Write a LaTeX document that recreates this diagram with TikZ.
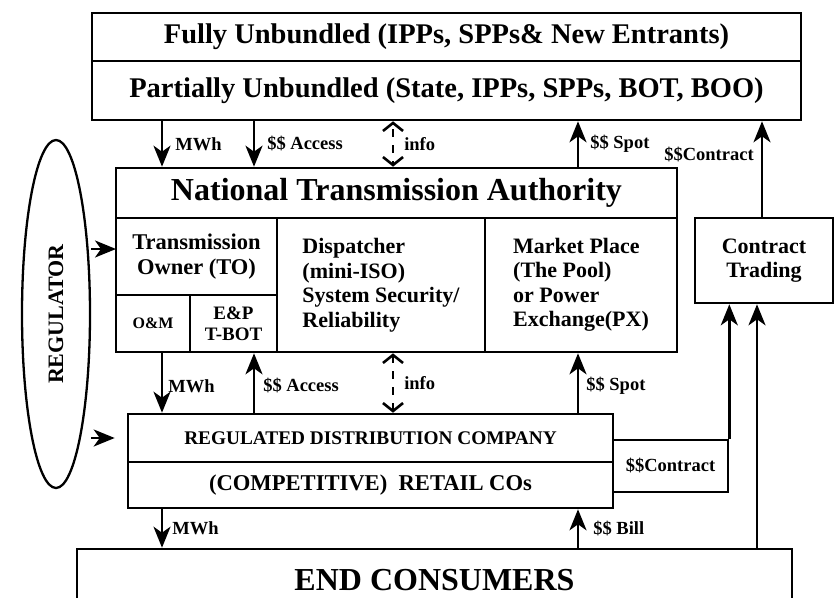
\documentclass[tikz,border=0pt]{standalone}
\usepackage{fontspec}
\setmainfont{Liberation Serif}
\usepackage{tikz}
\usetikzlibrary{arrows.meta}
\usetikzlibrary{shapes.geometric}
\usetikzlibrary{positioning}
\usetikzlibrary{calc}
\newcommand{\fsize}[2]{\fontsize{#1}{#2}\selectfont\bfseries}
\tikzset{
  % Arrow tip for all flows
  >={Stealth[length=21pt,width=17pt,inset=6pt]},
  % Common styles for the market diagram
  line/.style={draw, ->, line width=2.6pt},
  infoline/.style={draw, {Straight Barb[length=8pt,width=20pt]}-{Straight Barb[length=8pt,width=20pt]}, line width=2.6pt, dash pattern=on 8pt off 8pt, dash phase=12pt},
  box/.style={draw, rectangle, line width=2.6pt, inner sep=0pt, align=center},
  lbl/.style={font=\fsize{18.5}{20}, inner sep=0pt}
}

\begin{document}
\begin{tikzpicture}[x=1pt, y=-1pt]
    \useasboundingbox (0,0) rectangle (835,597);

    % Place nodes
    \node [box, minimum width=709pt, minimum height=48pt, font=\fsize{28.5}{30}] (fully) at (446.5,37) {Fully Unbundled (IPPs, SPPs\& New Entrants)};
    \node [box, minimum width=709pt, minimum height=59pt, font=\fsize{28.5}{30}] (partial) at (446.5,90.5) {Partially Unbundled (State, IPPs, SPPs, BOT, BOO)};
    \node [box, minimum width=561pt, minimum height=50pt, font=\fsize{32}{34}] (nta) at (396.5,193) {National Transmission Authority};
    \node [box, minimum width=161pt, minimum height=77pt, font=\fsize{22.5}{24.5}] (to) at (196.5,256.5) {Transmission\\Owner (TO)};
    \node [box, minimum width=74pt, minimum height=57pt, font=\fsize{16}{18}] (om) at (153,323.5) {O\&M};
    \node [box, minimum width=87pt, minimum height=57pt, font=\fsize{19}{21}] (ep) at (233.5,323.5) {E\&P\\T-BOT};
    \node [box, align=left, minimum width=208pt, minimum height=134pt, font=\fsize{22}{24.5}] (disp) at (381,285) {Dispatcher\\(mini-ISO)\\System Security/\\Reliability};
    \node [box, align=left, minimum width=192pt, minimum height=134pt, font=\fsize{22}{24.5}] (pool) at (581,285) {Market Place\\(The Pool)\\or Power\\Exchange(PX)};
    \node [box, minimum width=138pt, minimum height=85pt, font=\fsize{22}{24.5}] (ct) at (764,260.5) {Contract\\Trading};
    \node [box, minimum width=485pt, minimum height=48pt, font=\fsize{19.3}{21}] (rdc) at (370.5,438) {REGULATED DISTRIBUTION COMPANY};
    \node [box, minimum width=485pt, minimum height=46pt, font=\fsize{22.6}{24}] (retail) at (370.5,485) {(COMPETITIVE)~~RETAIL COs};
    \node [box, minimum width=115pt, minimum height=52pt, font=\fsize{18.5}{20}] (sc) at (670.5,466) {\$\$Contract};
    \node [box, minimum width=715pt, minimum height=62pt, font=\fsize{32}{34}] (ec) at (434.5,580) {END CONSUMERS};
    \node [draw, ellipse, line width=2.3pt, minimum width=68pt, minimum height=348pt, inner sep=0pt] (reg) at (56,314) {\rotatebox{90}{\fsize{22}{24}REGULATOR}};

    % Columns of the flows
    \coordinate (c1) at (162,0);
    \coordinate (c2) at (254,0);
    \coordinate (c3) at (393,0);
    \coordinate (c4) at (578,0);
    \coordinate (c5) at (762,0);
    \coordinate (c7) at (757,0);
    \coordinate (r1) at (116,249);

    % Draw edges
    \path [line] (c1 |- partial.south) -- node [lbl, right=12pt] {MWh} (c1 |- nta.north);
    \path [line] (c2 |- partial.south) -- node [lbl, right=12pt] {\$\$ Access} (c2 |- nta.north);
    \path [infoline, dash phase=11pt] (c3 |- partial.south) -- node [lbl, right=10pt] {info} (c3 |- nta.north);
    \path [line] (c4 |- nta.north) -- node [lbl, right=11pt] {\$\$ Spot} (c4 |- partial.south);
    \path [line] (c5 |- ct.north) -- node [lbl, left=7pt, pos=0.65] {\$\$Contract} (c5 |- partial.south);
    \path [line] (reg.east |- r1) -- (r1);
    \path [line, shorten >=12pt] (reg.east |- rdc.west) -- (rdc.west);
    \path [line] (c1 |- om.south) -- node [lbl, right=5pt, pos=0.55] {MWh} (c1 |- rdc.north);
    \path [line] (c2 |- rdc.north) -- node [lbl, right=8pt, pos=0.45] {\$\$ Access} (c2 |- ep.south);
    \path [infoline, dash phase=17pt] (c3 |- disp.south) -- node [lbl, right=10pt] {info} (c3 |- rdc.north);
    \path [line] (c4 |- rdc.north) -- node [lbl, right=7pt, pos=0.45] {\$\$ Spot} (c4 |- pool.south);
    \path [line] (sc.north east) -- (sc.north east |- ct.south);
    \path [line] (c7 |- ec.north) -- (c7 |- ct.south);
    \path [line] (c1 |- retail.south) -- node [lbl, right=9pt] {MWh} (c1 |- ec.north);
    \path [line] (c4 |- ec.north) -- node [lbl, right=14pt] {\$\$ Bill} (c4 |- retail.south);

\end{tikzpicture}
\end{document}
